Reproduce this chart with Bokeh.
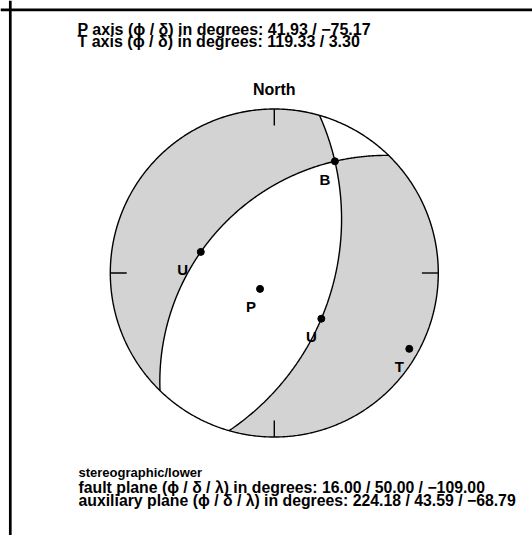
import numpy as np
from bokeh.plotting import figure
from bokeh.models import Span, ColumnDataSource
from bokeh.core.properties import value
from bokeh.embed import file_html
from bokeh.resources import INLINE

# ---------------- data ----------------
fault_plane = [16.00, 50.00, -109.00]     # strike, dip, rake (degrees)
aux_plane = [224.18, 43.59, -68.79]       # strike, dip, rake (degrees)
p_axis = [41.93, -75.17]                  # trend, plunge (degrees)
t_axis = [119.33, 3.30]                   # trend, plunge (degrees)
projection_name = "stereographic/lower"
compass_az = [0, 90, 180, 270]
north_label = "North"
point_labels = ["B", "U", "U", "P", "T"]

# ---------------- layout ----------------
CX, CY, R = 273.8, 272.5, 164.0           # page pixels of the net centre / radius
X0, Y0 = 0, 0                              # page position of the figure
W, H = 532, 535
FONT = value("Liberation Sans")
GRAY = "#d3d3d3"
label_dx = [-10, -18, -10, -9, -10]
label_dy = [18, 18, 18, 18, 18]


def px2x(px):
    return (px - CX) / R


def py2y(py):
    return (CY - py) / R


def unit(trend, plunge):
    t, p = np.radians(trend), np.radians(plunge)
    return np.array([np.cos(p) * np.sin(t), np.cos(p) * np.cos(t), np.sin(p)])


def project(v):
    v = np.asarray(v, float)
    if v.ndim == 1:
        v = v[:, None]
    v = np.where(v[2] < 0, -v, v)
    plunge = np.arcsin(np.clip(v[2], -1, 1))
    trend = np.arctan2(v[0], v[1])
    r = np.tan((np.pi / 2 - plunge) / 2)       # stereographic
    return r * np.sin(trend), r * np.cos(trend)


def basis(strike, dip):
    s = unit(strike, 0)
    d = unit(strike + 90, dip)
    n = np.cross(s, d)
    return s, d, n


def curve(s, d, t0, t1, n=200):
    t = np.linspace(t0, t1, n)
    v = np.outer(s, np.cos(t)) + np.outer(d, np.sin(t))
    return project(v)


planes = [basis(fault_plane[0], fault_plane[1]), basis(aux_plane[0], aux_plane[1])]
n1, n2 = planes[0][2], planes[1][2]
bvec = np.cross(n1, n2)
bvec /= np.linalg.norm(bvec)
if bvec[2] < 0:
    bvec = -bvec
tB = [np.arctan2(bvec @ d, bvec @ s) % (2 * np.pi) for s, d, _ in planes]
tvec = unit(*t_axis)
sT = (tvec @ n1) * (tvec @ n2)

strikes = [fault_plane[0], aux_plane[0]]
ends = []
for i, st in enumerate(strikes):
    ends.append((st % 360, i, 0.0))
    ends.append(((st + 180) % 360, i, np.pi))
ends.sort()

gx, gy = [], []
for k in range(4):
    ai, pi_, ti = ends[k]
    aj, pj, tj = ends[(k + 1) % 4]
    if aj <= ai:
        aj += 360
    arc = np.radians(np.linspace(ai, aj, 200))
    ax, ay = np.sin(arc), np.cos(arc)
    c1x, c1y = curve(planes[pj][0], planes[pj][1], tj, tB[pj])
    c2x, c2y = curve(planes[pi_][0], planes[pi_][1], tB[pi_], ti)
    xm = unit((ai + aj) / 2, 0)
    if (xm @ n1) * (xm @ n2) * sT > 0:
        gx.append(np.concatenate([ax, c1x, c2x]))
        gy.append(np.concatenate([ay, c1y, c2y]))

# ---------------- figure ----------------
p = figure(width=W, height=H,
           x_range=(px2x(X0), px2x(X0 + W)), y_range=(py2y(Y0 + H), py2y(Y0)),
           output_backend="svg", toolbar_location=None,
           x_axis_location=None, y_axis_location=None,
           min_border=0, outline_line_color=None)
p.grid.visible = False
p.background_fill_color = "white"
p.border_fill_color = "white"

p.patches(gx, gy, fill_color=GRAY, line_color=None)

for s, d, _ in planes:
    cx_, cy_ = curve(s, d, 0, np.pi, 400)
    p.line(cx_, cy_, line_color="black", line_width=1.4)

th = np.radians(np.linspace(0, 360, 721))
p.line(np.sin(th), np.cos(th), line_color="black", line_width=1.4)

caz = np.radians(compass_az)
p.segment(np.sin(caz), np.cos(caz), 0.9 * np.sin(caz), 0.9 * np.cos(caz),
          line_color="black", line_width=1.4)

# points: B, pole of fault (on aux), pole of aux (on fault), P, T
pole_f = unit(fault_plane[0] - 90, 90 - fault_plane[1])
pole_a = unit(aux_plane[0] - 90, 90 - aux_plane[1])
pvec = unit(*p_axis)
pts = [bvec, pole_f, pole_a, pvec, tvec]
px_, py_ = zip(*[project(v) for v in pts])
px_ = [float(np.ravel(a)[0]) for a in px_]
py_ = [float(np.ravel(a)[0]) for a in py_]
p.scatter(px_, py_, size=7, color="black")
src = ColumnDataSource(dict(x=px_, y=py_, t=point_labels, dx=label_dx, dy=label_dy))
p.text("x", "y", text="t", x_offset="dx", y_offset="dy", source=src,
       text_font=FONT, text_font_style="bold", text_font_size="15px",
       text_align="center", text_baseline="middle", text_color="black")

# titles and annotations
fmt = lambda v: ("%.2f" % v).replace("-", "\u2212")
top1 = "P axis (\u03d5 / \u03b4) in degrees: " + " / ".join(fmt(v) for v in p_axis)
top2 = "T axis (\u03d5 / \u03b4) in degrees: " + " / ".join(fmt(v) for v in t_axis)
bot1 = "fault plane (\u03d5 / \u03b4 / \u03bb) in degrees: " + " / ".join(fmt(v) for v in fault_plane)
bot2 = "auxiliary plane (\u03d5 / \u03b4 / \u03bb) in degrees: " + " / ".join(fmt(v) for v in aux_plane)


def put(txt, px, py, size, align="left"):
    p.text([px2x(px)], [py2y(py)], text=[txt], text_font=FONT, text_font_style="bold",
           text_font_size=size, text_align=align, text_baseline="alphabetic",
           text_color="black")


put(top1, 77, 29, "16px")
put(top2, 77, 41, "16px")
put(north_label, CX, 89, "16px", align="center")
put(projection_name, 78, 472, "13px")
put(bot1, 78, 487, "15.8px")
put(bot2, 78, 500, "15.8px")

p.add_layout(Span(location=py2y(9.3), dimension="width", line_color="black", line_width=2.7))
p.add_layout(Span(location=px2x(9.8), dimension="height", line_color="black", line_width=2.7))

open("out.html", "w").write(file_html(p, INLINE))
